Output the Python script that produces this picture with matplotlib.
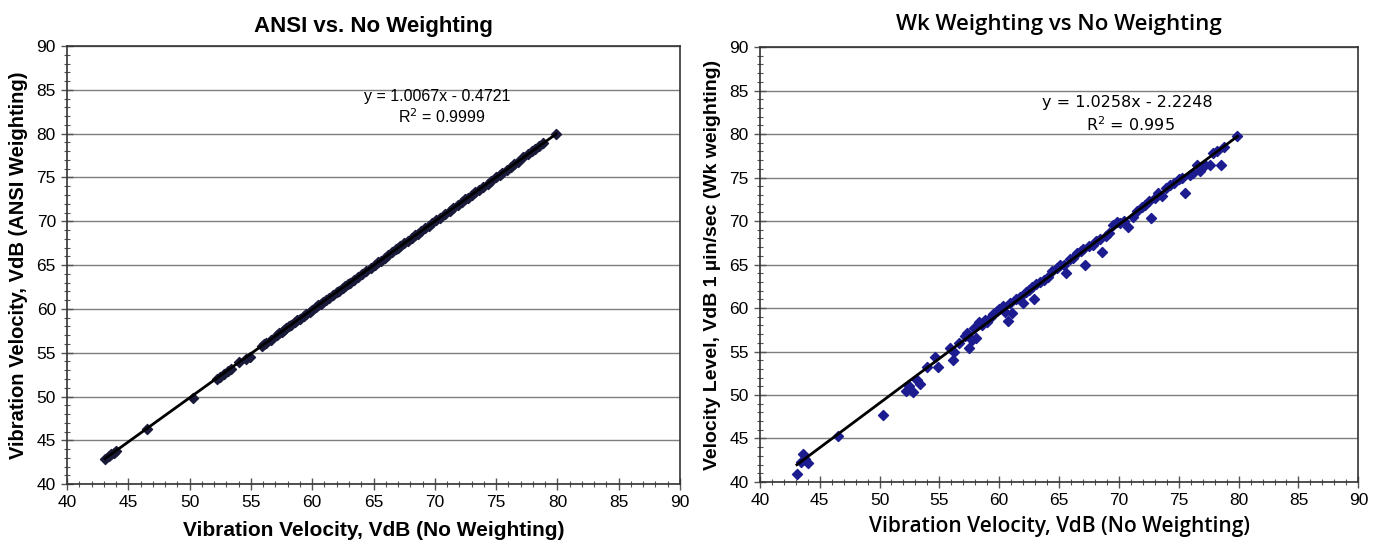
import matplotlib
matplotlib.use("Agg")
import matplotlib.pyplot as plt
from matplotlib.ticker import MultipleLocator
import numpy as np

# measured levels, no weighting (shared by both panels)
no_weighting = [43.1, 43.4, 43.6, 43.8, 44.0, 46.5, 50.3, 52.2, 52.5, 52.8,
                53.1, 53.4, 54.0, 54.6, 54.9, 55.9, 56.1, 56.2, 56.6, 57.1,
                57.3, 57.5, 57.7, 57.9, 58.1, 58.3, 58.6, 58.8, 59.0, 59.3,
                59.5, 59.8, 60.0, 60.3, 60.5, 60.7, 60.9, 61.1, 61.4, 61.7,
                62.0, 62.2, 62.5, 62.7, 62.9, 63.1, 63.4, 63.7, 64.1, 64.4,
                64.8, 65.1, 65.4, 65.6, 65.9, 66.2, 66.5, 66.8, 67.0, 67.2,
                67.5, 67.8, 68.1, 68.4, 68.6, 68.9, 69.2, 69.5, 69.8, 70.1,
                70.4, 70.8, 71.2, 71.5, 71.9, 72.2, 72.5, 72.7, 73.0, 73.3,
                73.6, 73.9, 74.3, 74.6, 75.0, 75.3, 75.5, 75.9, 76.2, 76.5,
                76.8, 77.2, 77.6, 77.9, 78.2, 78.5, 78.8, 79.9]

ansi = [42.9, 43.2, 43.4, 43.6, 43.8, 46.3, 49.8, 52.0, 52.2, 52.6,
        52.9, 53.2, 53.9, 54.3, 54.5, 55.8, 56.0, 56.1, 56.5, 57.0,
        57.2, 57.4, 57.6, 57.8, 58.0, 58.2, 58.5, 58.7, 58.9, 59.2,
        59.4, 59.7, 59.9, 60.2, 60.4, 60.6, 60.8, 61.0, 61.3, 61.6,
        61.9, 62.1, 62.4, 62.6, 62.8, 63.0, 63.3, 63.6, 64.0, 64.3,
        64.7, 65.0, 65.3, 65.5, 65.8, 66.2, 66.5, 66.8, 67.0, 67.2,
        67.5, 67.8, 68.1, 68.4, 68.6, 68.9, 69.2, 69.5, 69.8, 70.1,
        70.4, 70.8, 71.2, 71.5, 71.9, 72.2, 72.5, 72.7, 73.0, 73.3,
        73.6, 73.9, 74.3, 74.6, 75.0, 75.3, 75.5, 75.9, 76.2, 76.5,
        76.8, 77.3, 77.7, 78.0, 78.3, 78.6, 78.9, 80.0]

wk = [40.9, 42.3, 43.2, 42.6, 42.2, 45.3, 47.7, 50.5, 51.0, 50.3,
      51.7, 51.3, 53.2, 54.4, 53.2, 55.4, 54.0, 55.0, 56.0, 56.8,
      57.1, 55.4, 56.3, 57.7, 56.5, 58.4, 58.1, 58.6, 58.4, 59.0,
      59.3, 59.7, 59.9, 60.2, 59.6, 58.5, 60.6, 59.4, 61.0, 61.3,
      60.6, 61.8, 62.1, 62.4, 61.0, 62.8, 63.0, 63.2, 63.6, 64.2,
      64.6, 64.9, 65.0, 64.0, 65.6, 65.8, 66.3, 66.5, 66.8, 65.0,
      67.1, 67.3, 67.7, 67.9, 66.4, 68.3, 68.6, 69.6, 69.9, 69.8,
      70.0, 69.3, 70.5, 71.1, 71.6, 71.8, 72.3, 70.3, 72.6, 73.2,
      72.9, 73.8, 74.1, 74.4, 74.8, 75.0, 73.2, 75.3, 75.5, 76.4,
      75.7, 76.4, 76.5, 77.8, 78.0, 76.5, 78.5, 79.8]

# trendline coefficients shown on the charts
ansi_fit = (1.0067, -0.4721, 0.9999)
wk_fit = (1.0258, -2.2248, 0.995)

plt.rcParams['font.family'] = ['Liberation Sans Narrow', 'Liberation Sans', 'DejaVu Sans']

fig = plt.figure(figsize=(13.79, 5.54), dpi=100)
ax1 = fig.add_axes([0.0486, 0.126, 0.4445, 0.791])
ax2 = fig.add_axes([0.551, 0.130, 0.434, 0.785])


def style_axes(ax):
    ax.set_xlim(40, 90)
    ax.set_ylim(40, 90)
    ax.xaxis.set_major_locator(MultipleLocator(5))
    ax.yaxis.set_major_locator(MultipleLocator(5))
    ax.xaxis.set_minor_locator(MultipleLocator(1))
    ax.yaxis.set_minor_locator(MultipleLocator(1))
    ax.tick_params(which='major', direction='inout', length=8, width=1,
                   color='#555555', labelsize=12.5, pad=4)
    ax.tick_params(which='minor', direction='inout', length=5, width=0.8,
                   color='#555555')
    ax.grid(axis='y', which='major', color='#7f7f7f', lw=1)
    ax.set_axisbelow(True)
    for s in ax.spines.values():
        s.set_color('#333333')
        s.set_linewidth(1.2)


def trend(ax, x, fit):
    xs = np.array([min(x), max(x)])
    ax.plot(xs, fit[0] * xs + fit[1], color='black', lw=2, zorder=4)


# left: ANSI vs none
style_axes(ax1)
ax1.scatter(no_weighting, ansi, marker='D', s=26, color='#1a1a3a', zorder=3)
trend(ax1, no_weighting, ansi_fit)
ax1.text(70.2, 84.2, 'y = %.4fx - %.4f' % (ansi_fit[0], -ansi_fit[1]),
         ha='center', va='center', fontsize=11.5, family=['Liberation Sans', 'DejaVu Sans'])
ax1.text(70.6, 81.9, 'R$^2$ = %.4f' % ansi_fit[2],
         ha='center', va='center', fontsize=11.5, family=['Liberation Sans', 'DejaVu Sans'])
ax1.set_title('ANSI vs. No Weighting', fontsize=16, fontweight='bold', pad=10)
ax1.set_xlabel('Vibration Velocity, VdB (No Weighting)', fontsize=15,
               fontweight='bold', labelpad=8)
ax1.set_ylabel('Vibration Velocity, VdB (ANSI Weighting)', fontsize=14.5,
               fontweight='bold', family=['Liberation Sans', 'DejaVu Sans'], labelpad=6)

# right: Wk vs none
style_axes(ax2)
ax2.scatter(no_weighting, wk, marker='D', s=26, color='#1c1c90', zorder=3)
trend(ax2, no_weighting, wk_fit)
ax2.text(70.7, 83.6, 'y = %.4fx - %.4f' % (wk_fit[0], -wk_fit[1]),
         ha='center', va='center', fontsize=11.5, family=['Liberation Sans Narrow', 'DejaVu Sans'])
ax2.text(71.0, 81.1, 'R$^2$ = %.3f' % wk_fit[2],
         ha='center', va='center', fontsize=11.5, family=['Liberation Sans Narrow', 'DejaVu Sans'])
ax2.set_title('Wk Weighting vs No Weighting', fontsize=16, fontweight='semibold',
              family=['Open Sans', 'DejaVu Sans'], pad=12)
ax2.set_xlabel('Vibration Velocity, VdB (No Weighting)', fontsize=15,
               fontweight='semibold', family=['Open Sans', 'DejaVu Sans'], labelpad=6)
ax2.set_ylabel('Velocity Level, VdB 1 \u00b5in/sec (Wk weighting)', fontsize=14,
               fontweight='bold', family=['Liberation Sans', 'DejaVu Sans'], labelpad=6)

fig.savefig('out.png', dpi=100)
